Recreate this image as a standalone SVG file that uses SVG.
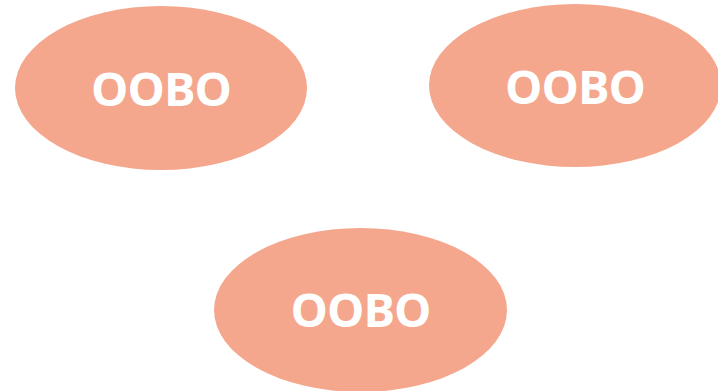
<svg xmlns="http://www.w3.org/2000/svg" width="718" height="391" viewBox="0 0 718 391">
<style>
.n{fill:#F4A78D;}
.t{fill:#FFFFFF;font-family:"Open Sans","Noto Sans",sans-serif;font-weight:bold;font-size:47px;letter-spacing:-1px;text-anchor:middle;}
</style>
<rect width="718" height="391" fill="#FFFFFF"/>
<g id="node1"><ellipse class="n" cx="161" cy="88" rx="146" ry="82"/><text class="t" x="161" y="106">OOBO</text></g>
<g id="node2"><ellipse class="n" cx="575" cy="85.5" rx="146" ry="81.5"/><text class="t" x="575" y="104">OOBO</text></g>
<g id="node3"><ellipse class="n" cx="360.5" cy="310" rx="146.5" ry="82"/><text class="t" x="360.5" y="327">OOBO</text></g>
<g id="connectors"></g>
</svg>
